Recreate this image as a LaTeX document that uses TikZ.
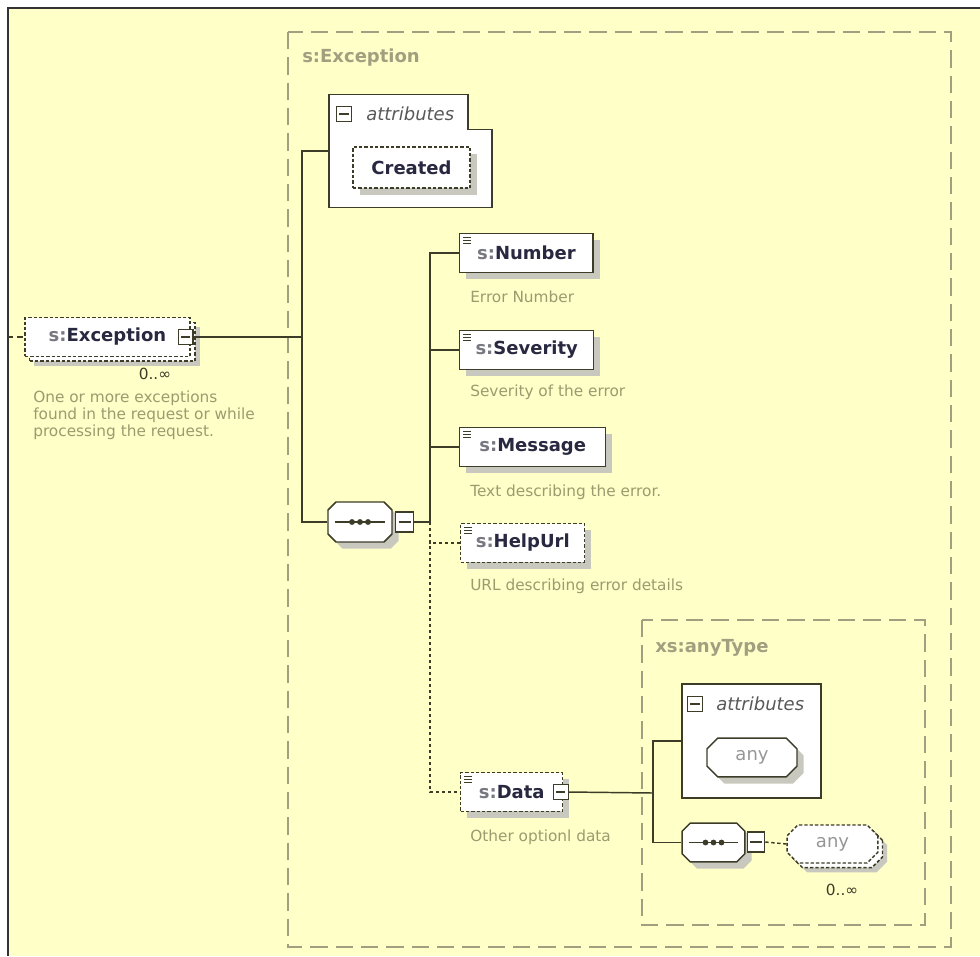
\documentclass[tikz,border=0pt]{standalone}
\usepackage{fontspec}
\setmainfont{DejaVu Sans}
\usepackage{tikz}
\usetikzlibrary{shapes.misc}
\usetikzlibrary{shadows}
\definecolor{bgyellow}{RGB}{255,255,200}
\definecolor{typegray}{RGB}{160,160,128}
\definecolor{descgray}{RGB}{155,155,112}
\definecolor{linedark}{RGB}{60,60,40}
\definecolor{namedark}{RGB}{40,40,64}
\definecolor{prefixgray}{RGB}{120,120,130}
\definecolor{shadowgray}{RGB}{200,200,190}
\definecolor{anygray}{RGB}{150,150,150}
\newcommand{\pfx}[1]{\textcolor{prefixgray}{#1}}
\tikzset{
  treenode/.style = {inner sep=0pt, font=\fontsize{13.5}{16}\selectfont\bfseries,
    text=namedark},
  elem_node/.style = {treenode, rectangle, draw=linedark, fill=white,
    line width=1.1pt, minimum height=29pt, anchor=west,
    drop shadow={shadow xshift=5pt, shadow yshift=-5pt, fill=shadowgray, opacity=1}},% element
  opt_node/.style = {elem_node, dash pattern=on 2.5pt off 1.5pt},% element optionnel
  multi_node/.style = {treenode, rectangle, draw=linedark, fill=white,
    line width=1.1pt, minimum height=29pt, dash pattern=on 2.5pt off 1.5pt,
    drop shadow={shadow xshift=7pt, shadow yshift=-7pt, fill=shadowgray, opacity=1},
    copy shadow={shadow xshift=3.5pt, shadow yshift=-3.5pt, draw=linedark, fill=white}},% element 0..oo
  seq_node/.style = {chamfered rectangle, chamfered rectangle xsep=3pt,
    chamfered rectangle ysep=3pt, draw=linedark, fill=white, line width=1.1pt, inner sep=0pt,
    drop shadow={shadow xshift=5pt, shadow yshift=-5pt, fill=shadowgray, opacity=1},
    path picture={
      \draw[line width=1.1pt, linedark] ([xshift=5pt]path picture bounding box.west)
        -- ([xshift=-5pt]path picture bounding box.east);
      \foreach \d in {-6pt,0pt,6pt}
        \fill[linedark] ([xshift=\d]path picture bounding box.center) circle (2.2pt);}},% sequence
  any_node/.style = {chamfered rectangle, chamfered rectangle sep=4pt, draw=linedark,
    fill=white, line width=1.1pt, minimum width=67.5pt, minimum height=29pt, inner sep=0pt,
    font=\fontsize{13.5}{16}\selectfont, text=anygray,
    drop shadow={shadow xshift=5pt, shadow yshift=-5pt, fill=shadowgray, opacity=1}},
  minus_box/.style = {rectangle, draw=linedark, fill=white, line width=0.9pt,
    minimum size=11pt, inner sep=0pt,
    path picture={\draw[line width=0.9pt, linedark] ([xshift=2pt]path picture bounding box.west)
      -- ([xshift=-2pt]path picture bounding box.east);}},
  attr_box/.style = {rectangle, inner sep=0pt},
  box_line/.style = {draw=linedark, fill=white, line width=1.1pt},
  attr_label/.style = {anchor=west, inner sep=0pt, font=\fontsize{13.5}{16}\selectfont\itshape,
    text=black!65},
  desc_text/.style = {anchor=west, inner sep=0pt, align=left,
    font=\fontsize{11.5}{12.5}\selectfont, text=descgray},
  occ_text/.style = {inner sep=0pt, font=\fontsize{11.5}{13.5}\selectfont, text=linedark},
  type_label/.style = {anchor=west, inner sep=0pt,
    font=\fontsize{13.5}{16}\selectfont\bfseries, text=typegray},
  type_box/.style = {draw=typegray, line width=1.3pt, dash pattern=on 13pt off 6pt},
  conn/.style = {draw=linedark, line width=1.1pt},
  opt_conn/.style = {conn, dash pattern=on 2.5pt off 2pt}
}

\begin{document}
\begin{tikzpicture}[x=0.75pt, y=-0.75pt]
  \useasboundingbox (0,0) rectangle (980,956);
  \fill[white] (0,0) rectangle (980,956);
  \fill[bgyellow] (8,8) rectangle (980,956);
  \draw[line width=1.6pt, black!80] (8,956) -- (8,8) -- (980,8);
  % types complexes
  \draw[type_box] (288,32) rectangle (951,947);
  \node[type_label] (t_exc) at (302,58) {s:Exception};
  \draw[type_box] (642,620) rectangle (925,925);
  \node[type_label] (t_any) at (655,648) {xs:anyType};
  % element racine
  \coordinate (exc_in) at (8,337);
  \node[multi_node, minimum width=124pt] (exc) at (107.5,337) {\pfx{s:}Exception\hspace{10pt}};
  \node[minus_box] (exc_min) at ([xshift=-4pt]exc.east) {};
  \node[occ_text] (exc_occ) at (155,374) {0..∞};
  \node[desc_text, anchor=north west] (exc_desc) at (33,391)
    {One or more exceptions\\found in the request or while\\processing the request.};
  \draw[conn, dash pattern=on 4pt off 3pt] (exc_in) -- (exc.west);
  % attributs
  \node[attr_box, minimum width=122pt, minimum height=84pt] (attr) at (410.5,151) {};
  \draw[box_line] (attr.south west) |- ([xshift=-18pt]attr.north east)
    |- ([yshift=-26pt]attr.north east) -- (attr.south east) -- cycle;
  \node[minus_box] (attr_min) at (344,114) {};
  \node[attr_label] (attr_lbl) at (366,114) {attributes};
  \node[opt_node, anchor=center, minimum width=88pt, minimum height=31pt] (created)
    at (411.5,167.5) {Created};
  % sequence
  \node[seq_node] (seq) at (360,522) {\rule{0pt}{24pt}\hspace*{42pt}};
  \node[minus_box, minimum width=13pt, minimum height=15pt] (seq_min) at (404.5,522) {};
  \coordinate (bus_a) at (302,337);
  \draw[conn] (exc_min.east) -- (bus_a);
  \draw[conn] (attr.west) -| (bus_a) |- (seq.west);
  % enfants
  \node[elem_node, minimum width=100pt] (num) at (459,253) {\pfx{s:}Number};
  \node[desc_text] (num_desc) at (470,297) {Error Number};
  \node[elem_node, minimum width=100.5pt] (sev) at (459,350) {\pfx{s:}Severity};
  \node[desc_text] (sev_desc) at (470,392) {Severity of the error};
  \node[elem_node, minimum width=109.5pt] (msg) at (459,447) {\pfx{s:}Message};
  \node[desc_text] (msg_desc) at (470,492) {Text describing the error.};
  \node[opt_node, minimum width=93pt] (help) at (460,543) {\pfx{s:}HelpUrl};
  \node[desc_text] (help_desc) at (470,586) {URL describing error details};
  \node[opt_node, minimum width=76.5pt] (data) at (460,792) {\pfx{s:}Data\hspace{8pt}};
  \node[minus_box] (data_min) at ([xshift=-2pt]data.east) {};
  \node[desc_text] (data_desc) at (470,837) {Other optionl data};
  \foreach \n in {num,sev,msg,help,data}
    \foreach \k in {0,1,2}
      \draw[line width=0.7pt, linedark] ([xshift=3pt, yshift={-3.5pt-\k*2.2pt}]\n.north west) -- ++(6pt,0);
  \coordinate (bus_b) at (430,522);
  \draw[conn] (seq_min.east) -- (bus_b);
  \foreach \n in {num,sev,msg}
    \draw[conn] (\n.west) -| (bus_b);
  \draw[opt_conn] (bus_b) |- (help.west);
  \draw[opt_conn] (bus_b) |- (data.west);
  % xs:anyType
  \node[attr_box, box_line, minimum width=104pt, minimum height=85.5pt] (attr2) at (751.5,741) {};
  \node[minus_box] (attr2_min) at (695,704) {};
  \node[attr_label] (attr2_lbl) at (716,704) {attributes};
  \node[any_node] (any_attr) at (752,757.5) {any\hspace{18pt}};
  \node[seq_node] (seq2) at (713.5,842.5) {\rule{0pt}{23pt}\hspace*{41pt}};
  \node[minus_box, minimum width=13pt, minimum height=15pt] (seq2_min) at (756,842) {};
  \node[multi_node, chamfered rectangle, chamfered rectangle sep=4pt, minimum width=68pt,
    minimum height=28.5pt, font=\fontsize{13.5}{16}\selectfont, text=anygray] (any_elem)
    at (832.5,844) {any\hspace{22pt}};
  \node[occ_text] (any_occ) at (842,890) {0..∞};
  \coordinate (bus_c) at (653,793);
  \draw[conn] (data_min.east) -- (bus_c);
  \draw[conn] (attr2.west) -| (bus_c) |- (seq2.west);
  \draw[opt_conn] (seq2_min.east) -- (any_elem.west);
\end{tikzpicture}
\end{document}
